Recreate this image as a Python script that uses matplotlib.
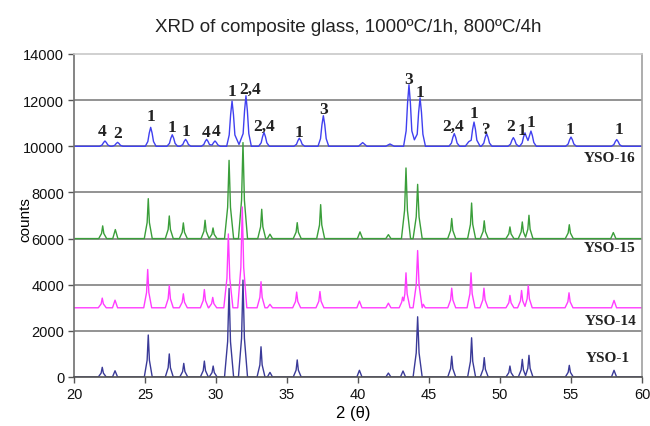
"""XRD patterns of the composite glass samples, stacked with vertical offsets."""

import matplotlib

matplotlib.use("Agg")
import matplotlib.pyplot as plt

# vertical offset of each pattern (counts)
OFFSETS = {"YSO-16": 10000, "YSO-15": 6000, "YSO-14": 3000, "YSO-1": 0}
COLORS = {"YSO-16": "#4040f0", "YSO-15": "#3a9e3a",
          "YSO-14": "#ff3cff", "YSO-1": "#3a3a98"}

# traced pattern vertices: (2theta, counts above the pattern's own baseline)
YSO1_POINTS = [
    (20.00, 0), (21.71, 0), (21.91, 168), (21.99, 420), (22.07, 168), (22.27, 0),
    (22.71, 0), (22.89, 270), (23.07, 0),
    (24.95, 0), (25.15, 728), (25.23, 1820), (25.31, 728), (25.51, 0),
    (26.43, 0), (26.63, 400), (26.71, 1000), (26.79, 400), (26.99, 0),
    (27.45, 0), (27.65, 236), (27.73, 590), (27.81, 236), (28.01, 0),
    (28.90, 0), (29.10, 276), (29.18, 690), (29.26, 276), (29.46, 0),
    (29.52, 0), (29.72, 190), (29.80, 475), (29.88, 190), (30.08, 0),
    (30.60, 0), (30.82, 1536), (30.92, 3840), (31.02, 1536), (31.24, 0),
    (31.58, 0), (31.80, 1680), (31.90, 4200), (32.00, 1680), (32.22, 0),
    (32.89, 0), (33.09, 524), (33.17, 1310), (33.25, 524), (33.45, 0),
    (33.62, 0), (33.80, 200), (33.98, 0),
    (35.44, 0), (35.64, 296), (35.72, 740), (35.80, 296), (36.00, 0),
    (39.92, 0), (40.10, 290), (40.28, 0),
    (41.96, 0), (42.14, 170), (42.32, 0),
    (42.99, 0), (43.17, 260), (43.35, 0),
    (43.88, 0), (44.10, 1044), (44.20, 2610), (44.30, 1044), (44.52, 0),
    (46.32, 0), (46.52, 360), (46.60, 900), (46.68, 360), (46.88, 0),
    (47.72, 0), (47.92, 680), (48.00, 1700), (48.08, 680), (48.28, 0),
    (48.61, 0), (48.81, 336), (48.89, 840), (48.97, 336), (49.17, 0),
    (50.42, 0), (50.62, 190), (50.70, 475), (50.78, 190), (50.98, 0),
    (51.29, 0), (51.49, 306), (51.57, 765), (51.65, 306), (51.80, 60),
    (51.96, 376), (52.04, 940), (52.12, 376), (52.32, 0),
    (54.60, 0), (54.80, 202), (54.88, 505), (54.96, 202), (55.16, 0),
    (57.85, 0), (58.03, 290), (58.21, 0), (60.00, 0),
]

YSO14_POINTS = [
    (20.00, 0), (21.71, 0), (21.91, 168), (21.99, 420), (22.07, 168), (22.27, 0),
    (22.71, 0), (22.89, 330), (23.07, 0),
    (24.91, 0), (25.11, 664), (25.19, 1660), (25.27, 664), (25.47, 0),
    (26.43, 0), (26.63, 388), (26.71, 970), (26.79, 388), (26.99, 0),
    (27.42, 0), (27.62, 242), (27.70, 605), (27.78, 242), (27.98, 0),
    (28.90, 0), (29.10, 316), (29.18, 790), (29.26, 316), (29.46, 0),
    (29.49, 0), (29.69, 180), (29.77, 450), (29.85, 180), (30.05, 0),
    (30.55, 0), (30.77, 1280), (30.87, 3200), (30.97, 1280), (31.19, 0),
    (31.53, 0), (31.75, 1748), (31.85, 4370), (31.95, 1748), (32.17, 0),
    (32.89, 0), (33.09, 452), (33.17, 1130), (33.25, 452), (33.45, 0),
    (33.62, 0), (33.80, 150), (33.98, 0),
    (35.40, 0), (35.60, 272), (35.68, 680), (35.76, 272), (35.96, 0),
    (37.04, 0), (37.24, 282), (37.32, 705), (37.40, 282), (37.60, 0),
    (39.92, 0), (40.10, 290), (40.28, 0),
    (41.96, 0), (42.14, 200), (42.32, 0),
    (42.90, 0), (43.08, 250), (43.14, 460), (43.22, 300), (43.30, 606),
    (43.38, 1515), (43.46, 606), (43.66, 0),
    (43.88, 0), (44.10, 992), (44.20, 2480), (44.30, 992), (44.52, 0),
    (44.60, 150), (44.74, 0),
    (46.32, 0), (46.52, 340), (46.60, 850), (46.68, 340), (46.88, 0),
    (47.68, 0), (47.88, 606), (47.96, 1515), (48.04, 606), (48.24, 0),
    (48.59, 0), (48.79, 340), (48.87, 850), (48.95, 340), (49.15, 0),
    (50.42, 0), (50.62, 214), (50.70, 535), (50.78, 214), (50.98, 0),
    (51.24, 0), (51.44, 300), (51.52, 750), (51.60, 300), (51.76, 60),
    (51.91, 388), (51.99, 970), (52.07, 388), (52.27, 0),
    (54.58, 0), (54.78, 260), (54.86, 650), (54.94, 260), (55.14, 0),
    (57.85, 0), (58.03, 320), (58.21, 0), (60.00, 0),
]

YSO15_POINTS = [
    (20.00, 0), (21.74, 0), (21.94, 220), (22.02, 550), (22.10, 220), (22.30, 0),
    (22.73, 0), (22.91, 390), (23.09, 0),
    (24.95, 0), (25.15, 692), (25.23, 1730), (25.31, 692), (25.51, 0),
    (26.43, 0), (26.63, 392), (26.71, 980), (26.79, 392), (26.99, 0),
    (27.42, 0), (27.62, 272), (27.70, 680), (27.78, 272), (27.98, 0),
    (28.95, 0), (29.15, 318), (29.23, 795), (29.31, 318), (29.51, 0),
    (29.71, 184), (29.79, 460), (29.87, 184), (30.07, 0),
    (30.60, 0), (30.82, 1356), (30.92, 3390), (31.02, 1356), (31.24, 0),
    (31.58, 0), (31.80, 1664), (31.90, 4160), (32.00, 1664), (32.22, 0),
    (32.94, 0), (33.14, 508), (33.22, 1270), (33.30, 508), (33.50, 0),
    (33.62, 0), (33.80, 190), (33.98, 0),
    (35.44, 0), (35.64, 276), (35.72, 690), (35.80, 276), (36.00, 0),
    (37.09, 0), (37.29, 588), (37.37, 1470), (37.45, 588), (37.65, 0),
    (39.96, 0), (40.14, 290), (40.32, 0),
    (41.96, 0), (42.14, 170), (42.32, 0),
    (43.06, 0), (43.28, 1224), (43.38, 3060), (43.48, 1224), (43.70, 0),
    (43.88, 0), (44.10, 940), (44.20, 2350), (44.30, 940), (44.52, 0),
    (46.32, 0), (46.52, 348), (46.60, 870), (46.68, 348), (46.88, 0),
    (47.72, 0), (47.92, 616), (48.00, 1540), (48.08, 616), (48.28, 0),
    (48.61, 0), (48.81, 308), (48.89, 770), (48.97, 308), (49.17, 0),
    (50.42, 0), (50.62, 202), (50.70, 505), (50.78, 202), (50.98, 0),
    (51.29, 0), (51.49, 288), (51.57, 720), (51.65, 288), (51.80, 60),
    (51.96, 404), (52.04, 1010), (52.12, 404), (52.32, 0),
    (54.60, 0), (54.80, 240), (54.88, 600), (54.96, 240), (55.16, 0),
    (57.80, 0), (57.98, 260), (58.16, 0), (60.00, 0),
]

YSO16_POINTS = [
    (20.00, 0), (21.80, 0), (21.98, 58), (22.08, 161), (22.18, 230),
    (22.28, 161), (22.38, 58), (22.56, 0),
    (22.69, 0), (22.87, 43), (22.97, 119), (23.07, 170), (23.17, 119),
    (23.27, 43), (23.45, 0),
    (25.02, 0), (25.20, 205), (25.30, 574), (25.40, 820), (25.50, 574),
    (25.60, 205), (25.78, 0),
    (26.54, 0), (26.72, 125), (26.82, 350), (26.92, 500), (27.02, 350),
    (27.12, 125), (27.30, 0),
    (27.48, 0), (27.66, 75), (27.76, 210), (27.86, 300), (27.96, 210),
    (28.06, 75), (28.24, 0),
    (28.96, 0), (29.14, 75), (29.24, 210), (29.34, 300), (29.44, 210),
    (29.54, 75), (29.64, 60), (29.73, 58), (29.83, 161), (29.93, 230),
    (30.03, 161), (30.13, 58), (30.31, 0),
    (30.75, 0), (30.93, 490), (31.03, 1372), (31.13, 1960), (31.23, 1372),
    (31.33, 490), (31.62, 80), (31.91, 548), (32.01, 1533), (32.11, 2190),
    (32.21, 1533), (32.31, 548), (32.49, 0),
    (33.00, 0), (33.18, 150), (33.28, 420), (33.38, 600), (33.48, 420),
    (33.58, 150), (33.76, 0),
    (35.49, 0), (35.67, 88), (35.77, 245), (35.87, 350), (35.97, 245),
    (36.07, 88), (36.25, 0),
    (37.18, 0), (37.36, 331), (37.46, 928), (37.56, 1325), (37.66, 928),
    (37.76, 331), (37.94, 0),
    (40.03, 0), (40.33, 160), (40.63, 0),
    (41.95, 0), (42.25, 100), (42.55, 0),
    (43.21, 0), (43.39, 668), (43.49, 1869), (43.59, 2670), (43.69, 1869),
    (43.79, 668), (43.97, 280), (44.17, 525), (44.27, 1470), (44.37, 2100),
    (44.47, 1470), (44.57, 525), (44.75, 0),
    (46.40, 0), (46.58, 138), (46.68, 385), (46.78, 550), (46.88, 385),
    (46.98, 138), (47.16, 0),
    (47.55, 0), (47.80, 200), (47.97, 263), (48.07, 735), (48.17, 1050),
    (48.27, 735), (48.37, 263), (48.60, 0),
    (48.68, 0), (48.86, 138), (48.96, 385), (49.06, 550), (49.16, 385),
    (49.26, 138), (49.44, 0),
    (50.56, 0), (50.74, 94), (50.84, 263), (50.94, 375), (51.04, 263),
    (51.14, 94), (51.32, 0),
    (51.38, 0), (51.56, 145), (51.66, 406), (51.76, 580), (51.86, 406),
    (51.97, 250), (52.08, 462), (52.18, 660), (52.28, 462), (52.38, 165),
    (52.56, 0),
    (54.62, 0), (54.80, 100), (54.90, 280), (55.00, 400), (55.10, 280),
    (55.20, 100), (55.38, 0),
    (57.84, 0), (58.02, 73), (58.12, 203), (58.22, 290), (58.32, 203),
    (58.42, 73), (58.60, 0), (60.00, 0),
]

# phase labels above the YSO-16 peaks: text, 2theta, counts
PEAK_TEXT = ["4", "2", "1", "1", "1", "4", "4", "1", "2,4", "2,4", "1", "3",
             "3", "1", "2,4", "1", "?", "2", "1", "1", "1", "1"]
PEAK_THETA = [22.0, 23.07, 25.4, 26.92, 27.86, 29.27, 29.98, 31.1, 32.4, 33.38,
              35.82, 37.56, 43.59, 44.37, 46.67, 48.17, 49.06, 50.75, 51.53,
              52.18, 54.93, 58.4]
PEAK_Y = [10665, 10595, 11314, 10855, 10665, 10620, 10665, 12397, 12470, 10880,
          10620, 11600, 12900, 12350, 10880, 11460, 10740, 10880, 10695, 11070,
          10740, 10740]

# sample name labels: 2theta of right edge, counts
NAME_THETA = {"YSO-16": 59.55, "YSO-15": 59.55, "YSO-14": 59.6, "YSO-1": 59.15}
NAME_Y = {"YSO-16": 9495, "YSO-15": 5630, "YSO-14": 2440, "YSO-1": 866}

SERIES = {
    "YSO-16": YSO16_POINTS,
    "YSO-15": YSO15_POINTS,
    "YSO-14": YSO14_POINTS,
    "YSO-1": YSO1_POINTS,
}

SANS = ["Liberation Sans", "DejaVu Sans"]
SERIF = ["Liberation Serif", "DejaVu Serif"]

fig = plt.figure(figsize=(6.5, 4.27), dpi=100)
ax = fig.add_axes([74 / 650, 1 - 378 / 427, 568 / 650, 323 / 427])

for level in range(2000, 14000, 2000):
    ax.axhline(level, color="#8a8a8a", linewidth=1.3, zorder=0)

for name, points in SERIES.items():
    theta, counts = zip(*points)
    off = OFFSETS[name]
    ax.plot(theta, [c + off for c in counts], color=COLORS[name],
            linewidth=1.0, zorder=2)
    ax.text(NAME_THETA[name], NAME_Y[name], name, ha="right", va="center",
            fontsize=11, fontweight="bold", family=SERIF, color="#222222")

for txt, t, y in zip(PEAK_TEXT, PEAK_THETA, PEAK_Y):
    ax.text(t, y, txt, ha="center", va="center", fontsize=12.5,
            fontweight="bold", family=SERIF, color="#222222")

ax.set_xlim(20, 60)
ax.set_ylim(0, 14000)
ax.set_xticks(range(20, 61, 5))
ax.set_yticks(range(0, 14001, 2000))
for lab in ax.get_xticklabels() + ax.get_yticklabels():
    lab.set_family(SANS)
    lab.set_fontsize(10.5)
ax.tick_params(direction="out", length=4, width=1, color="#555555",
               labelcolor="#111111", pad=3)

ax.spines["left"].set_color("#707070")
ax.spines["bottom"].set_color("#505050")
ax.spines["top"].set_color("#c8c8c8")
ax.spines["right"].set_color("#a0a0a0")
for s in ax.spines.values():
    s.set_linewidth(1.2)

ax.set_xlabel("2 (θ)", family=SANS, fontsize=12)
ax.set_ylabel("counts", family=SANS, fontsize=11)
ax.xaxis.set_label_coords(0.491, -0.087)
ax.yaxis.set_label_coords(-0.074, 0.49)
fig.text(348 / 650, 1 - 28 / 427, "XRD of composite glass, 1000ºC/1h, 800ºC/4h",
         ha="center", va="center", family=SANS, fontsize=13.5, color="#222222")

fig.savefig("out.png", dpi=100, facecolor="white")
